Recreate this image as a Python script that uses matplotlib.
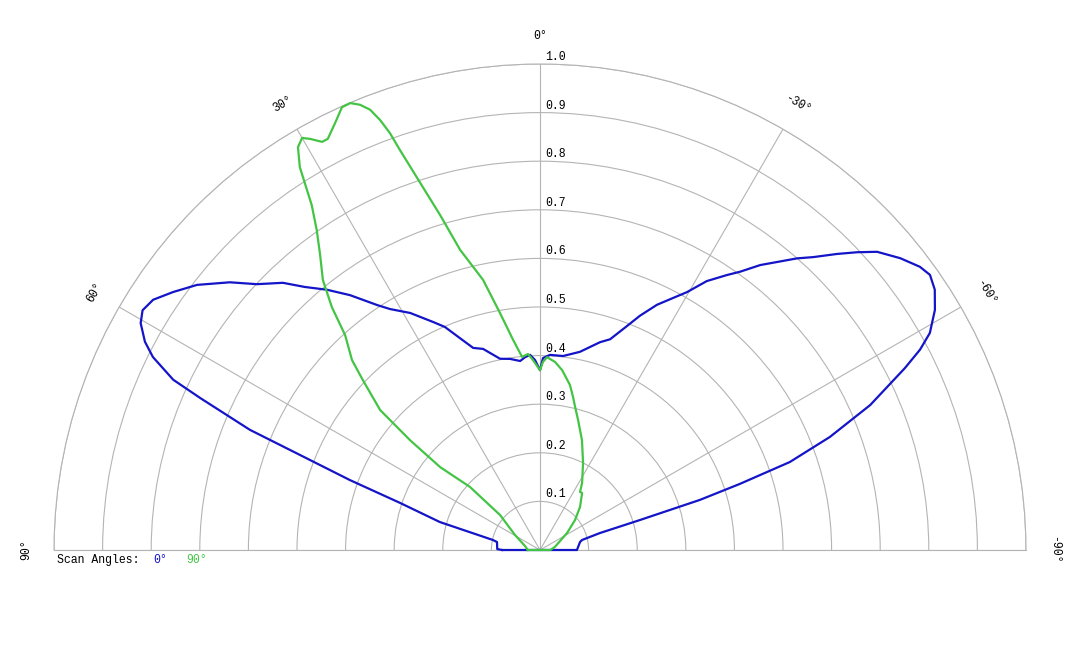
import numpy as np
import matplotlib
matplotlib.use("Agg")
import matplotlib.pyplot as plt

# --- DATA (angle in deg, positive = left) ---
BLUE_THETA = [90.0, 88.7, 79.5, 78.0, 74.4, 71.4, 69.8, 68.4, 67.5, 65.9,
              65.1, 63.5, 62.2, 60.4, 58.9, 57.1, 54.9, 52.3, 49.2, 46.8,
              43.9, 41.8, 39.3, 36.7, 33.6, 31.9, 28.7, 25.1, 23.1, 20.7,
              18.3, 15.8, 11.8, 8.9, 6.0, 4.4, 2.9, 1.5, 0.0, -0.9,
              -2.9, -6.8, -11.4, -16.1, -18.4, -21.2, -23.1, -25.5, -27.8, -29.7,
              -31.8, -34.2, -35.7, -37.7, -41.4, -43.0, -45.1, -46.8, -48.5, -51.0,
              -53.3, -54.8, -56.6, -58.7, -60.9, -62.2, -63.5, -66.3, -68.7, -70.6,
              -71.7, -72.6, -73.3, -74.2, -76.6, -78.7, -90.0]
BLUE_R = [0.078, 0.088, 0.090, 0.099, 0.214, 0.304, 0.417, 0.531, 0.646, 0.766,
          0.832, 0.890, 0.919, 0.945, 0.955, 0.948, 0.923, 0.892, 0.843, 0.799,
          0.763, 0.726, 0.692, 0.654, 0.605, 0.584, 0.556, 0.518, 0.499, 0.466,
          0.438, 0.430, 0.402, 0.398, 0.391, 0.398, 0.402, 0.391, 0.370, 0.395,
          0.402, 0.402, 0.416, 0.445, 0.457, 0.494, 0.524, 0.559, 0.586, 0.611,
          0.651, 0.684, 0.705, 0.741, 0.800, 0.824, 0.863, 0.895, 0.926, 0.954,
          0.975, 0.982, 0.973, 0.951, 0.918, 0.884, 0.839, 0.742, 0.640, 0.545,
          0.433, 0.345, 0.215, 0.128, 0.089, 0.084, 0.076]

GREEN_THETA = [90.0, 75.0, 59.0, 48.8, 48.0, 50.3, 49.8, 48.8, 46.2, 44.7,
               42.2, 40.6, 38.8, 36.7, 34.9, 33.5, 32.1, 31.0, 30.0, 29.2,
               28.1, 27.3, 25.6, 24.1, 23.0, 22.0, 21.1, 20.4, 19.8, 19.3,
               18.3, 16.6, 14.9, 11.9, 9.6, 7.3, 5.3, 3.5, 2.1, 0.0,
               -0.9, -2.1, -4.6, -7.0, -10.3, -12.2, -13.8, -16.3, -20.9, -26.3,
               -32.1, -34.6, -36.4, -42.9, -49.4, -57.8, -78.7, -90.0]
GREEN_R = [0.025, 0.032, 0.060, 0.109, 0.194, 0.267, 0.350, 0.437, 0.505, 0.550,
           0.597, 0.658, 0.713, 0.757, 0.803, 0.851, 0.930, 0.967, 0.979, 0.969,
           0.952, 0.952, 0.975, 0.998, 0.999, 0.988, 0.971, 0.944, 0.912, 0.872,
           0.808, 0.719, 0.639, 0.568, 0.495, 0.436, 0.399, 0.404, 0.391, 0.370,
           0.387, 0.397, 0.388, 0.373, 0.345, 0.322, 0.303, 0.279, 0.242, 0.200,
           0.163, 0.145, 0.146, 0.121, 0.095, 0.066, 0.031, 0.021]

R_TICKS = [0.1, 0.2, 0.3, 0.4, 0.5, 0.6, 0.7, 0.8, 0.9, 1.0]
ANGLE_TICKS = [-90, -60, -30, 0, 30, 60, 90]
SCAN_LABELS = ["0°", "90°"]

BLUE = "#1414c8"
GREEN = "#44c444"
GRID = "#b4b4b4"
FONT = "Liberation Mono"
FS = 8.3

plt.rcParams['font.family'] = [FONT, 'DejaVu Sans']

fig = plt.figure(figsize=(10.8, 6.48), dpi=100)
# square box; the half disc is centred vertically inside it
ax = fig.add_axes([54 / 1080, 1 - 793 / 648, 972 / 1080, 972 / 648], projection='polar')
ax.set_theta_zero_location('N')
ax.set_theta_direction(1)
ax.set_thetamin(-90)
ax.set_thetamax(90)
ax.set_ylim(0, 1.0)

ax.set_rgrids(R_TICKS, labels=[])
ax.set_thetagrids(ANGLE_TICKS, labels=[])
ax.grid(True, color=GRID, linewidth=0.8)
for sp in ax.spines.values():
    sp.set_color(GRID)
    sp.set_linewidth(0.8)
ax.tick_params(length=0)

# curves, closed back to their first point
for th, rr, col in [(BLUE_THETA, BLUE_R, BLUE), (GREEN_THETA, GREEN_R, GREEN)]:
    th = np.deg2rad(np.r_[th, th[:1]])
    rr = np.r_[rr, rr[:1]]
    ax.plot(th, rr, color=col, linewidth=1.6, clip_on=False, zorder=3)

# radial labels next to the 0 deg line
for r in R_TICKS:
    ax.annotate(f"{r:.1f}", (0, r), xytext=(3.6, 5), textcoords='offset points',
                ha='left', va='center', fontsize=FS, annotation_clip=False)

# angle labels around the rim
for a in ANGLE_TICKS:
    ax.text(np.deg2rad(a), 1.058, f"{a}°", rotation=a, rotation_mode='anchor',
            ha='center', va='center', fontsize=FS, clip_on=False)

# legend line
fig.text(57 / 1080, 1 - 560 / 648, "Scan Angles:", fontsize=FS, va='center', ha='left')
fig.text(153 / 1080, 1 - 560 / 648, SCAN_LABELS[0], fontsize=FS, va='center', ha='left', color=BLUE)
fig.text(186 / 1080, 1 - 560 / 648, SCAN_LABELS[1], fontsize=FS, va='center', ha='left', color=GREEN)

fig.savefig("out.png", dpi=100)
